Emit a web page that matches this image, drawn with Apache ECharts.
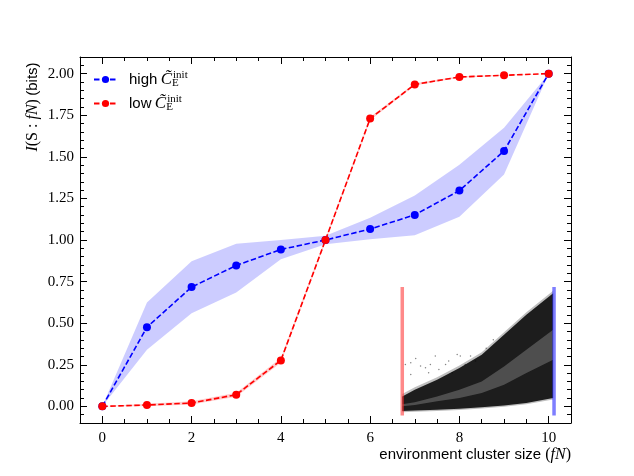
<!DOCTYPE html>
<html>
<head>
<meta charset="utf-8">
<script src="https://cdn.jsdelivr.net/npm/echarts@6/dist/echarts.min.js"></script>
<style>
  html, body { margin: 0; padding: 0; background: #fff; }
  #main { width: 634px; height: 476px; }
</style>
</head>
<body>
<div id="main"></div>
<script>
// cluster size fN
const clusterSize = [0, 1, 2, 3, 4, 5, 6, 7, 8, 9, 10]
// high C_E^init : mean and shaded band
const highMean = [0, 0.476, 0.717, 0.847, 0.943, 1.0, 1.066, 1.151, 1.297, 1.535, 2.0]
const highLo = [0, 0.34, 0.56, 0.685, 0.885, 0.975, 1.005, 1.028, 1.14, 1.393, 2.0]
const highHi = [0, 0.625, 0.873, 0.977, 1.0, 1.025, 1.133, 1.267, 1.453, 1.674, 2.0]
// low C_E^init : mean and (narrow) band
const lowMean = [0, 0.008, 0.02, 0.07, 0.276, 1.0, 1.73, 1.935, 1.98, 1.99, 2.0]
const lowLo = [0, 0.0, 0.011, 0.058, 0.262, 0.99, 1.72, 1.928, 1.976, 1.987, 2.0]
const lowHi = [0, 0.016, 0.03, 0.082, 0.29, 1.01, 1.74, 1.942, 1.985, 1.994, 2.0]

// inset: point cloud envelope
const cloudX = [6.72, 7.0, 7.5, 8.0, 8.5, 9.0, 9.5, 10.1]
const cloudTop = [0.06, 0.1, 0.16, 0.23, 0.31, 0.43, 0.55, 0.68]
const cloudBottom = [-0.028, -0.025, -0.02, -0.014, -0.005, 0.005, 0.02, 0.05]
const cloudGapLo = [0.0, 0.008, 0.03, 0.05, 0.08, 0.13, 0.2, 0.28]
const cloudGapHi = [0.012, 0.025, 0.06, 0.1, 0.15, 0.24, 0.34, 0.46]
// sparse dots above the cloud
const sparseX = [6.79, 6.91, 7.02, 7.13, 7.24, 7.35, 7.46, 7.54, 7.69, 7.76, 7.95, 8.02, 8.13, 8.25, 8.36, 6.91, 7.31, 7.84, 8.76, 8.6]
const sparseY = [0.252, 0.262, 0.288, 0.242, 0.232, 0.252, 0.302, 0.222, 0.252, 0.272, 0.312, 0.302, 0.252, 0.302, 0.272, 0.192, 0.202, 0.202, 0.4, 0.35]
// inset marker bars
const lowBarX = 6.72
const highBarX = 10.12
const barRange = [-0.055, 0.717]

// axes
const xRange = [-0.5, 10.5]
const yRange = [-0.1, 2.1]
const xMajorTicks = [0, 2, 4, 6, 8, 10]
const yMajorTicks = [0, 0.25, 0.5, 0.75, 1.0, 1.25, 1.5, 1.75, 2.0]
const xMinorStep = 0.5
const yMinorStep = 0.05

const serif = 'Liberation Serif'
const sans = 'Liberation Sans'

const pairs = (xs, ys) => xs.map((x, i) => [x, ys[i]])

function band(xs, lo, hi, fill, z) {
  return {
    type: 'custom',
    silent: true,
    z: z,
    data: [[xs[0], lo[0]]],
    renderItem(params, api) {
      const top = xs.map((x, i) => api.coord([x, hi[i]]))
      const bot = xs.map((x, i) => api.coord([x, lo[i]])).reverse()
      return { type: 'polygon', shape: { points: top.concat(bot) }, style: { fill: fill } }
    }
  }
}

function xAxisOf(pos, major) {
  const ax = {
    type: 'value', position: pos, min: xRange[0], max: xRange[1],
    splitLine: { show: false },
    axisLine: { show: major, onZero: false, lineStyle: { color: '#000', width: 1 } },
    axisTick: { inside: true, length: major ? 7 : 4, lineStyle: { color: '#000', width: 1 } },
    axisLabel: { show: false }
  }
  if (major) {
    ax.axisTick.customValues = xMajorTicks
    if (pos === 'bottom') {
      ax.axisLabel = { show: true, customValues: xMajorTicks, margin: 8, color: '#000',
        fontFamily: serif, fontSize: 15, formatter: v => String(v) }
    }
  } else {
    ax.interval = xMinorStep
  }
  return ax
}

function yAxisOf(pos, major) {
  const ax = {
    type: 'value', position: pos, min: yRange[0], max: yRange[1],
    splitLine: { show: false },
    axisLine: { show: major, onZero: false, lineStyle: { color: '#000', width: 1 } },
    axisTick: { inside: true, length: major ? 7 : 4, lineStyle: { color: '#000', width: 1 } },
    axisLabel: { show: false }
  }
  if (major) {
    ax.axisTick.customValues = yMajorTicks
    if (pos === 'left') {
      ax.axisLabel = { show: true, customValues: yMajorTicks, margin: 6, color: '#000',
        fontFamily: serif, fontSize: 15, formatter: v => v.toFixed(2) }
    }
  } else {
    ax.interval = yMinorStep
  }
  return ax
}

const mathRich = {
  s: { fontFamily: sans, fontSize: 15, color: '#000' },
  r: { fontFamily: serif, fontSize: 16, color: '#000' },
  i: { fontFamily: serif, fontSize: 16, fontStyle: 'italic', color: '#000' }
}

const chart = echarts.init(document.getElementById('main'))
chart.setOption({
  animation: false,
  backgroundColor: '#fff',
  grid: { left: 80, right: 63, top: 57, bottom: 53 },
  xAxis: [xAxisOf('bottom', true), xAxisOf('bottom', false), xAxisOf('top', true), xAxisOf('top', false)],
  yAxis: [yAxisOf('left', true), yAxisOf('left', false), yAxisOf('right', true), yAxisOf('right', false)],
  legend: {
    orient: 'vertical',
    left: 88,
    top: 65,
    itemWidth: 23,
    itemHeight: 9,
    itemGap: 5,
    data: ['high', 'low'],
    formatter: name => '{s|' + name + '} {c|C\u0303}{sub|E}{sup|init}',
    textStyle: {
      padding: [0, 0, 0, 7],
      rich: {
        s: { fontFamily: sans, fontSize: 15, color: '#000' },
        c: { fontFamily: serif, fontSize: 17, fontStyle: 'italic', color: '#000' },
        sub: { fontFamily: serif, fontSize: 11, color: '#000', width: 1, verticalAlign: 'bottom', padding: [8, 0, 0, 0] },
        sup: { fontFamily: serif, fontSize: 11, color: '#000', verticalAlign: 'top', padding: [0, 0, 8, 0] }
      }
    }
  },
  graphic: [
    {
      type: 'text', x: 33, y: 107, rotation: Math.PI / 2,
      style: { text: '{i|I}{r|(S : }{i|fN}{r|)} {s|(bits)}', rich: mathRich, align: 'center', verticalAlign: 'middle' }
    },
    {
      type: 'text', right: 63, top: 447,
      style: { text: '{s|environment cluster size }{r|(}{i|fN}{r|)}', rich: mathRich }
    }
  ],
  series: [
    band(clusterSize, highLo, highHi, 'rgba(0,0,255,0.2)', 1),
    band(clusterSize, lowLo, lowHi, 'rgba(255,0,0,0.2)', 1),
    band(cloudX, cloudBottom.map(v => v - 0.008), cloudTop.map(v => v + 0.015), 'rgba(0,0,0,0.25)', 2),
    band(cloudX, cloudBottom, cloudTop, 'rgba(0,0,0,0.85)', 2),
    band(cloudX, cloudGapLo, cloudGapHi, 'rgba(255,255,255,0.22)', 2),
    {
      type: 'scatter', silent: true, z: 2, symbolSize: 1.5,
      itemStyle: { color: 'rgba(0,0,0,0.6)' },
      data: pairs(sparseX, sparseY)
    },
    {
      type: 'line', silent: true, z: 3, symbol: 'none',
      lineStyle: { color: 'rgba(255,40,40,0.55)', width: 3.5 },
      data: [[lowBarX, barRange[0]], [lowBarX, barRange[1]]]
    },
    {
      type: 'line', silent: true, z: 3, symbol: 'none',
      lineStyle: { color: 'rgba(40,40,255,0.6)', width: 3.5 },
      data: [[highBarX, barRange[0]], [highBarX, barRange[1]]]
    },
    {
      name: 'high', type: 'line', z: 4,
      symbol: 'circle', symbolSize: 8,
      itemStyle: { color: '#0000ff' },
      lineStyle: { color: '#0000ff', width: 1.6, type: [5.5, 2.5] },
      data: pairs(clusterSize, highMean)
    },
    {
      name: 'low', type: 'line', z: 4,
      symbol: 'circle', symbolSize: 8,
      itemStyle: { color: '#ff0000' },
      lineStyle: { color: '#ff0000', width: 1.6, type: [5.5, 2.5] },
      data: pairs(clusterSize, lowMean)
    }
  ]
})
</script>
</body>
</html>
